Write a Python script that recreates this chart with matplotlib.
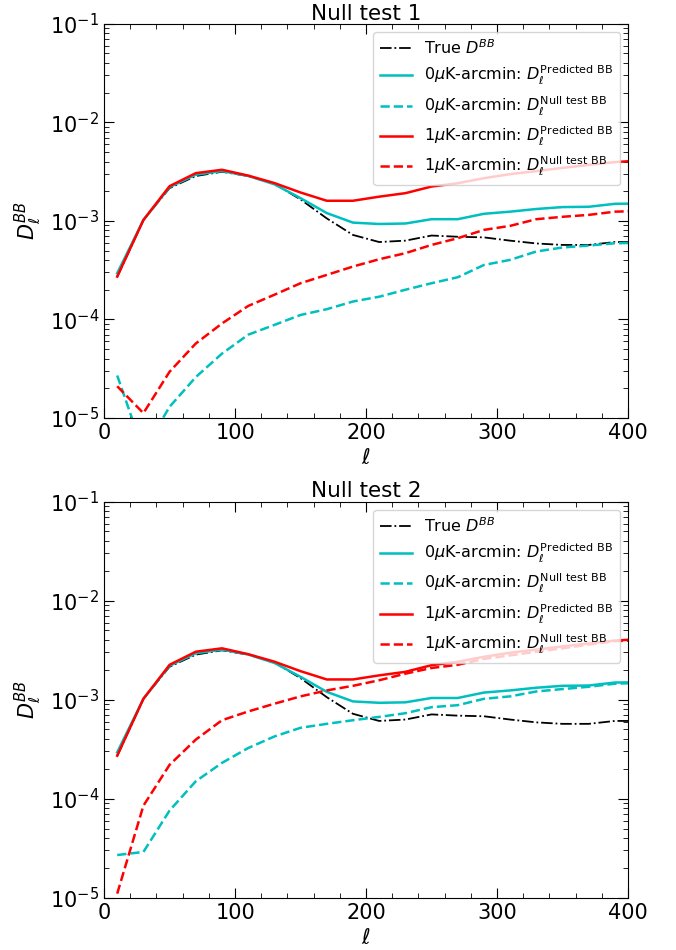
import numpy as np
import matplotlib
matplotlib.use("Agg")
import matplotlib.pyplot as plt
from matplotlib.ticker import MultipleLocator, LogLocator, NullFormatter

# multipole bin centres
ell = [10, 30, 50, 70, 90, 110, 130, 150, 170, 190, 210,
       230, 250, 270, 290, 310, 330, 350, 370, 390, 410]

# true BB spectrum
true_bb = [2.7e-4, 1.02e-3, 2.15e-3, 2.85e-3, 3.15e-3, 2.85e-3, 2.38e-3, 1.65e-3, 1.06e-3, 7.2e-4, 6.1e-4,
           6.3e-4, 7.1e-4, 6.9e-4, 6.8e-4, 6.3e-4, 5.9e-4, 5.7e-4, 5.7e-4, 6.1e-4, 6.1e-4]

# predicted BB (same in both tests)
pred_0uk = [2.94e-4, 1.02e-3, 2.2e-3, 2.94e-3, 3.2e-3, 2.86e-3, 2.35e-3, 1.7e-3, 1.2e-3, 9.6e-4, 9.3e-4,
            9.4e-4, 1.04e-3, 1.04e-3, 1.18e-3, 1.24e-3, 1.32e-3, 1.38e-3, 1.39e-3, 1.49e-3, 1.5e-3]
pred_1uk = [2.72e-4, 1.02e-3, 2.25e-3, 3.05e-3, 3.3e-3, 2.88e-3, 2.42e-3, 1.94e-3, 1.6e-3, 1.6e-3, 1.76e-3,
            1.91e-3, 2.23e-3, 2.41e-3, 2.71e-3, 2.98e-3, 3.2e-3, 3.45e-3, 3.7e-3, 3.95e-3, 4.1e-3]

# null test 1 residuals
null1_0uk = [2.7e-5, 4.6e-6, 1.3e-5, 2.6e-5, 4.5e-5, 7.0e-5, 8.8e-5, 1.11e-4, 1.27e-4, 1.52e-4, 1.7e-4,
             2.0e-4, 2.33e-4, 2.68e-4, 3.57e-4, 4.02e-4, 4.89e-4, 5.37e-4, 5.62e-4, 5.93e-4, 6.0e-4]
null1_1uk = [2.1e-5, 1.12e-5, 2.95e-5, 5.7e-5, 9.1e-5, 1.37e-4, 1.78e-4, 2.33e-4, 2.83e-4, 3.44e-4, 4.08e-4,
             4.7e-4, 5.7e-4, 6.67e-4, 8.1e-4, 8.9e-4, 1.04e-3, 1.1e-3, 1.15e-3, 1.24e-3, 1.26e-3]

# null test 2 residuals
null2_0uk = [2.7e-5, 2.9e-5, 7.6e-5, 1.5e-4, 2.3e-4, 3.25e-4, 4.25e-4, 5.2e-4, 5.7e-4, 6.2e-4, 6.7e-4,
             7.3e-4, 8.4e-4, 8.8e-4, 1.02e-3, 1.08e-3, 1.21e-3, 1.28e-3, 1.35e-3, 1.45e-3, 1.48e-3]
null2_1uk = [1.1e-5, 8.5e-5, 2.2e-4, 3.95e-4, 6.2e-4, 7.6e-4, 9.1e-4, 1.08e-3, 1.24e-3, 1.38e-3, 1.57e-3,
             1.83e-3, 2.09e-3, 2.25e-3, 2.58e-3, 2.8e-3, 3.05e-3, 3.3e-3, 3.6e-3, 3.9e-3, 4.0e-3]

titles = ["Null test 1", "Null test 2"]
nulls = [(null1_0uk, null1_1uk), (null2_0uk, null2_1uk)]

FS = 15


def draw_panel(ax, title, n0, n1):
    ax.plot(ell, true_bb, "k-.", lw=1.3, label=r"True $D^{BB}$")
    ax.plot(ell, pred_0uk, "c-", lw=1.8,
            label=r"0$\mu$K-arcmin: $D_\ell^{\mathrm{Predicted\ BB}}$")
    ax.plot(ell, n0, "c--", lw=1.8,
            label=r"0$\mu$K-arcmin: $D_\ell^{\mathrm{Null\ test\ BB}}$")
    ax.plot(ell, pred_1uk, "r-", lw=1.8,
            label=r"1$\mu$K-arcmin: $D_\ell^{\mathrm{Predicted\ BB}}$")
    ax.plot(ell, n1, "r--", lw=1.8,
            label=r"1$\mu$K-arcmin: $D_\ell^{\mathrm{Null\ test\ BB}}$")

    ax.set_yscale("log")
    ax.set_xlim(0, 400)
    ax.set_ylim(1e-5, 1e-1)
    ax.xaxis.set_major_locator(MultipleLocator(100))
    ax.xaxis.set_minor_locator(MultipleLocator(20))
    ax.yaxis.set_major_locator(LogLocator(base=10, numticks=10))
    ax.yaxis.set_minor_locator(LogLocator(base=10, subs=np.arange(2, 10), numticks=20))
    ax.yaxis.set_minor_formatter(NullFormatter())
    ax.tick_params(which="both", direction="in", top=True, right=True, labelsize=FS)
    ax.tick_params(which="major", length=7)
    ax.tick_params(which="minor", length=3.5)

    ax.set_title(title, fontsize=15.5, pad=3)
    ax.set_xlabel(r"$\ell$", fontsize=FS, labelpad=4)
    ax.set_ylabel(r"$D_\ell^{BB}$", fontsize=FS, labelpad=4)
    ax.legend(loc="upper right", fontsize=11.5, labelspacing=0.45)


fig = plt.figure(figsize=(6.76, 9.5), dpi=100)
ax_top = fig.add_axes([0.154, 0.56, 0.775, 0.415])
ax_bot = fig.add_axes([0.154, 0.055, 0.775, 0.417])

for ax, title, (n0, n1) in zip([ax_top, ax_bot], titles, nulls):
    draw_panel(ax, title, n0, n1)

fig.savefig("out.png", dpi=100)
plt.close(fig)
